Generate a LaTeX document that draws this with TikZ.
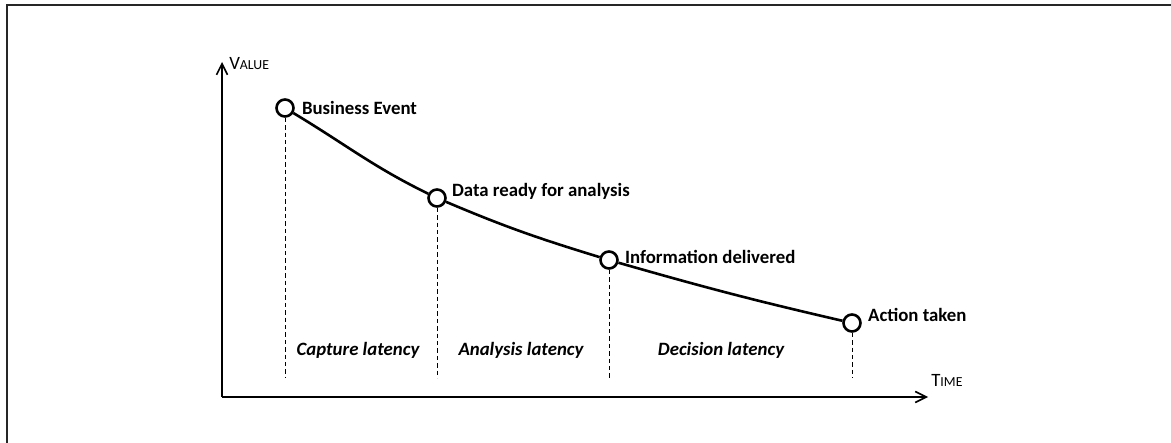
\documentclass[tikz,border=0pt]{standalone}
\usepackage{fontspec}
\setmainfont{Carlito}
\usepackage{tikz}
\usetikzlibrary{arrows.meta}
\usetikzlibrary{positioning}
\tikzstyle{vertex}=[draw,fill=white,circle,minimum size=8.5pt,inner sep=0pt,line width=1.3pt]
\tikzstyle{event}=[inner sep=0pt,font=\bfseries\fontsize{9.4}{11}\selectfont]
\tikzstyle{latency}=[inner sep=0pt,font=\bfseries\itshape\fontsize{9.4}{11}\selectfont]
\newcommand{\fakesc}[2]{{\fontsize{9.4}{11}\selectfont #1{\fontsize{6.9}{8}\selectfont #2}}}

\begin{document}
\begin{tikzpicture}[x=0.5pt,y=-0.5pt,line width=1.3pt]
\tikzstyle{guide}=[line width=0.5pt,dash pattern=on 2.2pt off 1.5pt]
\tikzstyle{axis}=[line width=0.8pt,-{Straight Barb[length=5.5pt,width=5.5pt]}]
\useasboundingbox (0,0) rectangle (1171,443);
% frame
\draw[line width=0.8pt,black!85] (7,443) -- (7,5) -- (1171,5);
% axes
\coordinate (o) at (222,397);
\coordinate (ytop) at (222,62);
\coordinate (xend) at (928,397);
\coordinate (base) at (0,378);
\draw[axis] (o) -- (ytop);
\draw[axis] (o) -- (xend);
\node[anchor=base west,inner sep=0pt] (vlabel) at (228,70) {\fakesc{V}{ALUE}};
\node[anchor=base west,inner sep=0pt] (tlabel) at (930,386) {\fakesc{T}{IME}};
% events
\node[vertex] (be) at (285,108) {};
\node[vertex] (dr) at (437,198) {};
\node[vertex] (id) at (609,260) {};
\node[vertex] (act) at (852,323) {};
\draw (be) to[out=-31,in=154] (dr) to[out=-23,in=163] (id) to[out=-16,in=167] (act);
\draw[guide] (be) -- (be |- base);
\draw[guide] (dr) -- (dr |- base);
\draw[guide] (id) -- (id |- base);
\draw[guide] (act) -- (act |- base);
\node[event, right=3pt of be] (bel) {Business Event};
\node[event, right=2pt of dr, yshift=3.5pt] (drl) {Data ready for analysis};
\node[event, right=2.5pt of id, yshift=1.5pt] (idl) {Information delivered};
\node[event, right=2.5pt of act, yshift=4pt] (actl) {Action taken};
% latencies
\node[latency] (cap) at (358,350) {Capture latency};
\node[latency] (ana) at (521,350) {Analysis latency};
\node[latency] (dec) at (721,350) {Decision latency};
\end{tikzpicture}
\end{document}
